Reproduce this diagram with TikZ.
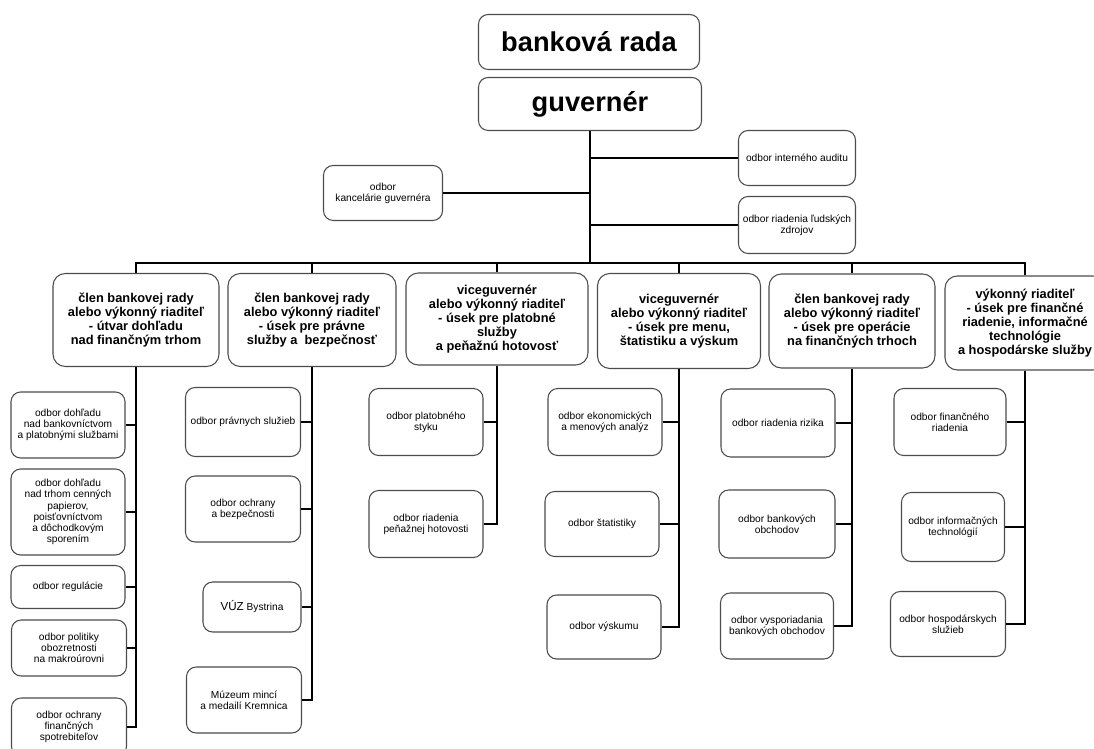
\documentclass[tikz,border=0pt]{standalone}
\usepackage{fontspec}
\setmainfont{Liberation Sans}
\usetikzlibrary{calc}
\newcommand\px{0.02cm}
\tikzstyle{roundbox}=[rectangle,rounded corners=5.5pt,draw=black!70,line width=0.6pt,
                      fill=white,align=center,inner sep=1pt]
\tikzstyle{topbox}=[roundbox,font=\fontsize{15.5}{17}\selectfont\bfseries]
\tikzstyle{headbox}=[roundbox,rounded corners=7pt,font=\fontsize{7.3}{7.9}\selectfont\bfseries,
                     minimum width=166*\px,minimum height=93*\px]
\tikzstyle{deptbox}=[roundbox,font=\fontsize{5.8}{6.4}\selectfont,
                     minimum width=114*\px,minimum height=67*\px]
\tikzstyle{link}=[draw=black,line width=1.3pt]
\tikzset{dims/.style 2 args={minimum width=#1*\px,minimum height=#2*\px}}

\begin{document}
\begin{tikzpicture}[x=0.02cm,y=-0.02cm]
    \useasboundingbox (0,0) rectangle (1094,749);
    % vedenie
    \node [topbox,dims={221}{55}] (rada) at (589,42) {banková rada};
    \node [topbox,dims={223}{53}] (guv) at (590,104) {guvernér};
    \node [deptbox,dims={119}{55}] (kanc) at (383,193) {odbor\\kancelárie guvernéra};
    \node [deptbox,dims={117}{55}] (audit) at (797,158) {odbor interného auditu};
    \node [deptbox,dims={117}{57}] (ludia) at (797,225) {odbor riadenia ľudských\\zdrojov};
    \coordinate (bus) at (590,263);

    % useky
    \node [headbox] (usek1) at (136,320) {člen bankovej rady\\alebo výkonný riaditeľ\\- útvar dohľadu\\nad finančným trhom};
    \node [headbox,dims={168}{93}] (usek2) at (312,320) {člen bankovej rady\\alebo výkonný riaditeľ\\- úsek pre právne\\služby a\ \ bezpečnosť};
    \node [headbox,dims={182}{92}] (usek3) at (497,319) {viceguvernér\\alebo výkonný riaditeľ\\- úsek pre platobné\\služby\\a peňažnú hotovosť};
    \node [headbox,dims={163}{95}] (usek4) at (679,321) {viceguvernér\\alebo výkonný riaditeľ\\- úsek pre menu,\\štatistiku a výskum};
    \node [headbox,dims={166}{94}] (usek5) at (852,321) {člen bankovej rady\\alebo výkonný riaditeľ\\- úsek pre operácie\\na finančných trhoch};
    \node [headbox,dims={160}{94}] (usek6) at (1025,323) {výkonný riaditeľ\\- úsek pre finančné\\riadenie, informačné\\technológie\\a hospodárske služby};

    % odbory - stlpec 1
    \node [deptbox,dims={114}{66}] (dohlad) at (68,425) {odbor dohľadu\\nad bankovníctvom\\a platobnými službami};
    \node [deptbox,dims={114}{86}] (trh) at (68,512) {odbor dohľadu\\nad trhom cenných\\papierov,\\poisťovníctvom\\a dôchodkovým\\sporením};
    \node [deptbox,dims={114}{43}] (regul) at (68,587) {odbor regulácie};
    \node [deptbox,dims={115}{56}] (makro) at (69,648) {odbor politiky\\obozretnosti\\na makroúrovni};
    \node [deptbox,dims={115}{58}] (spotr) at (69,727) {odbor ochrany\\finančných\\spotrebiteľov};
    % stlpec 2
    \node [deptbox,dims={115}{69}] (pravo) at (243,422) {odbor právnych služieb};
    \node [deptbox,dims={115}{66}] (bezp) at (243,509) {odbor ochrany\\a bezpečnosti};
    \node [deptbox,dims={98}{50}] (vuz) at (252,607) {{\fontsize{6.6}{7}\selectfont VÚZ} Bystrina};
    \node [deptbox,dims={115}{66}] (muzeum) at (244,700) {Múzeum mincí\\a medailí Kremnica};
    % stlpec 3
    \node [deptbox] (styk) at (426,422) {odbor platobného\\styku};
    \node [deptbox] (hotov) at (426,524) {odbor riadenia\\peňažnej hotovosti};
    % stlpec 4
    \node [deptbox] (analyzy) at (605,422) {odbor ekonomických\\a menových analýz};
    \node [deptbox,dims={114}{65}] (stat) at (602,524) {odbor štatistiky};
    \node [deptbox,dims={114}{64}] (vyskum) at (604,627) {odbor výskumu};
    % stlpec 5
    \node [deptbox,dims={114}{68}] (riziko) at (778,423) {odbor riadenia rizika};
    \node [deptbox,dims={116}{68}] (obchody) at (777,524) {odbor bankových\\obchodov};
    \node [deptbox,dims={113}{66}] (vyspor) at (777,626) {odbor vysporiadania\\bankových obchodov};
    % stlpec 6
    \node [deptbox,dims={112}{67}] (finriad) at (950,422) {odbor finančného\\riadenia};
    \node [deptbox,dims={103}{69}] (it) at (953,527) {odbor informačných\\technológií};
    \node [deptbox,dims={115}{65}] (hosp) at (948,624) {odbor hospodárskych\\služieb};

    % spojnice
    \draw [link] (guv.south) -- (bus);
    \draw [link] (guv.south) |- (audit.west);
    \draw [link] (guv.south) |- (ludia.west);
    \draw [link] (guv.south) |- (kanc.east);
    \foreach \u in {usek1,usek2,usek3,usek4,usek5,usek6}
        \draw [link] (bus) -| (\u.north);
    \foreach \o in {dohlad,trh,regul,makro,spotr}
        \draw [link] (usek1.south) |- (\o.east);
    \foreach \o in {pravo,bezp,vuz,muzeum}
        \draw [link] (usek2.south) |- (\o.east);
    \foreach \o in {styk,hotov}
        \draw [link] (usek3.south) |- (\o.east);
    \foreach \o in {analyzy,stat,vyskum}
        \draw [link] (usek4.south) |- (\o.east);
    \foreach \o in {riziko,obchody,vyspor}
        \draw [link] (usek5.south) |- (\o.east);
    \foreach \o in {finriad,it,hosp}
        \draw [link] (usek6.south) |- (\o.east);
\end{tikzpicture}
\end{document}
